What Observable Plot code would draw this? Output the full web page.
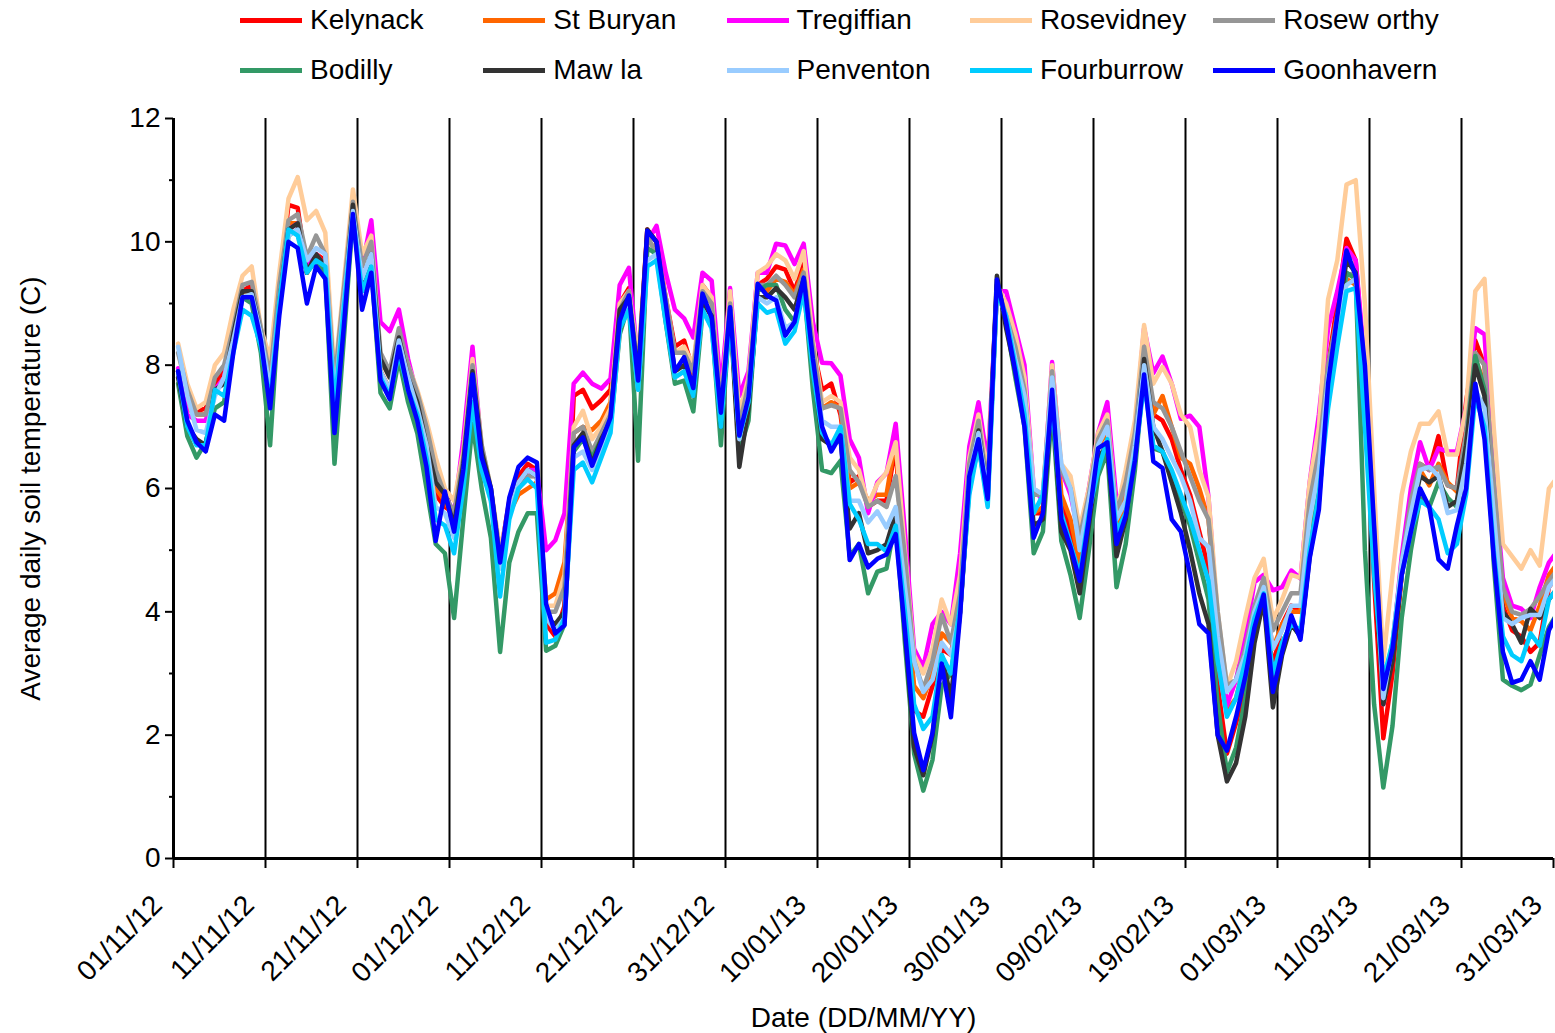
<!DOCTYPE html>
<html><head><meta charset="utf-8">
<script src="https://cdn.jsdelivr.net/npm/d3@7"></script>
<script src="https://cdn.jsdelivr.net/npm/@observablehq/plot@0.6"></script>
<style>
html,body{margin:0;padding:0;background:#fff;overflow:hidden;}
body{width:1555px;height:1033px;font-family:"Liberation Sans",Arial,sans-serif;}
#legend{position:relative;width:1555px;height:95px;}
.item{position:absolute;display:flex;align-items:center;font-size:28px;color:#000;height:30px;line-height:30px;white-space:nowrap;}
.sw{width:62px;height:5px;margin-right:8px;}
#chart svg{display:block;}
</style></head><body>
<div id="legend"></div>
<div id="chart"></div>
<script>
const seriesNames = ["Kelynack","St Buryan","Tregiffian","Rosevidney","Rosew orthy","Bodilly","Maw la","Penventon","Fourburrow","Goonhavern"];
const seriesColors = ["#FF0000","#FF6600","#FF00FF","#FFCC99","#969696","#339966","#333333","#99CCFF","#00CCFF","#0000FF"];
const xTickLabels = ["01/11/12","11/11/12","21/11/12","01/12/12","11/12/12","21/12/12","31/12/12","10/01/13","20/01/13","30/01/13","09/02/13","19/02/13","01/03/13","11/03/13","21/03/13","31/03/13"];
const yTicks = [0,2,4,6,8,10,12];
const yMinorTicks = [1,3,5,7,9,11];
const firstDay = "01/11/12";

const kelynack = [7.9,7.3,7.25,7.3,7.7,7.9,8.6,9.2,9.3,8.5,
7.5,9.3,10.6,10.55,9.5,9.8,9.7,7.2,9.0,10.6,
9.3,9.8,7.9,7.6,8.4,7.8,7.4,6.7,5.9,5.7,
5.6,6.5,8.0,6.6,5.9,4.9,5.8,6.2,6.4,6.3,
3.8,3.6,4.1,7.5,7.6,7.3,7.43,7.6,9.0,9.25,
7.9,10.2,10.0,9.1,8.3,8.4,7.9,9.3,9.1,7.3,
9.1,7.0,7.6,9.3,9.4,9.6,9.55,9.2,9.65,8.3,
7.6,7.7,7.2,6.1,6.2,5.7,5.8,5.8,6.7,4.3,
2.4,2.3,2.8,3.4,3.3,4.2,6.4,7.0,6.0,9.2,
8.9,8.2,7.4,5.6,5.6,7.9,5.8,5.3,4.7,5.6,
6.7,7.0,5.2,5.8,6.7,8.4,7.2,7.1,6.8,6.3,
5.9,5.3,4.7,2.8,1.7,2.2,2.8,3.7,4.2,3.1,
3.8,4.1,4.0,5.3,6.3,8.0,9.0,10.05,9.7,7.8,
4.5,1.95,3.0,4.6,5.7,6.4,6.3,6.85,6.05,6.0,
7.4,8.4,8.0,5.8,4.1,3.7,3.6,3.35,3.5,4.4,4.6];

const stBuryan = [7.9,7.3,7.2,7.2,7.6,7.8,8.5,9.2,9.2,8.5,
7.5,9.2,10.3,10.3,9.5,9.8,9.6,7.3,9.0,10.5,
9.3,9.8,7.9,7.6,8.4,7.8,7.4,6.8,6.0,5.8,
5.5,6.5,8.0,6.6,5.9,4.8,5.6,5.9,6.0,6.1,
4.2,4.3,4.8,6.9,7.0,6.95,7.1,7.4,8.9,9.1,
7.8,10.0,9.9,9.0,8.2,8.2,7.8,9.2,9.0,7.2,
9.1,7.1,7.7,9.3,9.2,9.4,9.35,9.15,9.55,8.3,
7.3,7.4,7.3,6.0,6.1,5.8,5.9,5.9,6.8,4.5,
2.8,2.6,3.0,3.65,3.5,4.0,6.2,6.9,6.0,9.2,
8.9,8.2,7.4,5.6,5.7,7.8,5.9,5.5,4.8,5.7,
6.7,6.9,5.3,5.9,6.8,8.3,7.2,7.5,7.0,6.5,
6.4,6.0,5.5,3.8,2.4,2.6,3.2,4.0,4.4,3.4,
3.8,4.0,4.0,5.4,6.3,7.9,8.8,9.4,9.3,7.6,
5.0,2.5,3.3,4.6,5.6,6.3,6.05,6.4,6.1,5.95,
6.8,8.1,7.7,5.9,4.3,3.9,3.85,3.7,4.1,4.6,4.8];

const tregiffian = [7.95,7.2,7.1,7.1,7.6,7.8,8.5,9.1,9.1,8.4,
7.4,9.1,10.2,10.3,9.6,9.8,9.6,7.2,8.9,10.5,
9.6,10.35,8.7,8.55,8.9,8.1,7.5,6.8,6.1,5.9,
5.6,6.8,8.3,6.6,5.9,4.9,5.7,6.0,6.3,6.3,
5.0,5.16,5.6,7.7,7.88,7.7,7.62,7.78,9.3,9.58,
8.0,10.0,10.26,9.5,8.9,8.76,8.45,9.5,9.37,7.6,
9.25,7.5,7.9,9.5,9.5,9.97,9.94,9.64,9.97,8.7,
8.04,8.03,7.83,6.8,6.5,5.6,6.1,6.25,7.05,5.3,
3.4,3.1,3.8,4.0,3.8,4.95,6.68,7.4,6.4,9.2,
9.2,8.6,8.0,6.0,5.8,8.05,6.3,5.9,5.2,6.0,
6.9,7.4,5.8,6.0,6.9,8.6,7.87,8.14,7.7,7.13,
7.18,7.0,5.86,3.8,2.48,2.9,3.6,4.48,4.6,4.35,
4.4,4.67,4.54,6.1,7.2,8.6,9.2,9.9,9.7,8.0,
5.2,2.5,3.4,4.9,6.0,6.75,6.3,6.65,6.6,6.6,
7.3,8.6,8.5,6.2,4.55,4.1,4.05,3.9,4.4,4.8,5.0];

const rosevidney = [8.35,7.7,7.3,7.4,8.0,8.2,8.9,9.45,9.6,8.6,
8.1,9.5,10.7,11.05,10.35,10.5,10.15,7.8,9.3,10.85,
9.8,10.1,8.1,7.8,8.5,8.0,7.6,7.1,6.5,6.0,
5.8,6.6,8.1,6.7,6.0,5.0,5.7,6.0,6.2,6.2,
4.1,4.1,4.6,7.0,7.26,6.8,7.0,7.3,9.0,9.2,
8.1,10.0,9.9,9.1,8.2,8.3,8.0,9.3,9.1,7.3,
9.2,7.2,7.8,9.5,9.6,9.8,9.7,9.4,9.85,8.4,
7.4,7.5,7.4,6.5,6.3,5.74,6.07,6.26,6.75,5.0,
3.3,3.0,3.4,4.2,3.8,4.6,6.5,7.2,6.2,9.3,
9.0,8.5,7.8,6.0,5.9,8.0,6.4,6.2,5.35,6.0,
6.9,7.2,5.6,6.3,7.1,8.65,7.7,7.97,7.7,7.2,
7.0,6.3,5.86,4.0,2.78,3.2,3.9,4.55,4.86,3.87,
4.2,4.6,4.55,6.1,7.0,9.07,9.7,10.93,11.0,9.0,
6.0,3.2,4.6,5.9,6.6,7.05,7.05,7.25,6.55,6.55,
7.3,9.2,9.4,7.0,5.1,4.9,4.7,5.0,4.75,6.0,6.2];

const roseworthy = [8.2,7.6,7.2,7.2,7.8,8.0,8.6,9.3,9.35,8.6,
7.8,9.3,10.35,10.45,9.75,10.1,9.8,7.7,9.2,10.65,
9.6,10.0,8.2,7.9,8.6,8.0,7.55,7.0,6.3,5.9,
5.6,6.5,8.0,6.7,6.0,4.9,5.6,6.0,6.2,6.2,
4.0,4.0,4.4,6.9,7.0,6.6,6.9,7.2,8.9,9.2,
7.9,10.1,9.8,9.1,8.2,8.2,7.9,9.2,9.0,7.3,
9.0,7.0,7.7,9.3,9.3,9.45,9.3,9.1,9.5,8.3,
7.3,7.35,7.3,6.3,6.1,5.7,5.8,5.7,6.2,4.9,
3.2,2.75,3.2,3.95,3.5,4.3,6.4,7.1,6.0,9.3,
8.8,8.3,7.6,5.9,5.9,7.9,6.3,6.0,5.2,5.9,
6.8,7.1,5.6,6.1,6.9,8.3,7.4,7.3,7.0,6.6,
6.2,5.8,5.5,4.0,2.8,2.9,3.4,4.1,4.55,3.7,
4.0,4.3,4.3,5.8,6.6,8.0,8.8,9.45,9.5,7.8,
5.3,2.8,3.5,4.8,5.8,6.4,6.3,6.35,6.05,6.0,
6.9,8.2,8.0,6.1,4.4,4.0,3.95,4.05,4.25,4.5,4.7];

const bodilly = [7.7,6.85,6.5,6.75,7.3,7.4,8.3,9.1,9.0,8.2,
6.7,9.0,10.1,10.2,9.5,9.7,9.5,6.4,8.4,10.4,
9.2,9.6,7.55,7.3,8.1,7.4,6.9,6.0,5.1,4.95,
3.9,5.5,7.05,6.0,5.2,3.35,4.8,5.3,5.6,5.6,
3.37,3.45,3.8,6.6,6.8,6.5,6.8,7.0,8.5,9.0,
6.45,9.9,9.8,8.7,7.7,7.75,7.25,8.85,8.7,6.7,
8.9,6.6,7.1,9.2,9.3,9.3,8.9,8.7,9.3,7.6,
6.3,6.25,6.45,4.9,5.1,4.3,4.65,4.7,5.5,3.5,
1.7,1.1,1.6,2.8,3.0,4.0,6.0,6.7,5.8,9.3,
8.7,7.8,7.0,4.95,5.3,7.3,5.15,4.6,3.9,5.0,
6.2,6.6,4.4,5.1,6.3,7.9,6.65,6.6,6.2,5.8,
5.4,4.8,4.2,2.5,1.4,1.8,2.6,3.6,4.2,2.9,
3.5,3.8,3.6,5.0,6.0,7.8,8.6,9.5,9.4,5.0,
2.5,1.15,2.15,3.9,5.0,5.85,5.7,6.1,5.85,5.7,
6.7,8.15,7.6,4.8,2.9,2.8,2.73,2.82,3.3,3.75,4.0];

const mawla = [7.8,7.0,6.8,6.7,7.6,7.7,8.5,9.2,9.2,8.5,
7.4,9.0,10.2,10.3,9.5,9.8,9.6,7.1,8.9,10.6,
9.3,9.8,8.1,7.8,8.45,7.8,7.4,6.7,6.1,5.9,
5.4,6.4,7.9,6.6,6.0,4.8,5.6,6.1,6.3,6.2,
3.9,3.8,4.0,6.7,6.9,6.4,6.8,7.1,8.9,9.1,
7.8,10.2,10.0,8.9,7.9,8.0,7.5,9.0,8.8,7.0,
8.9,6.35,7.3,9.1,9.1,9.25,9.1,8.9,9.4,8.0,
6.8,6.7,6.8,5.35,5.6,4.95,5.0,5.1,5.6,3.7,
1.8,1.35,2.0,3.3,2.6,4.0,6.1,6.94,5.9,9.45,
8.6,7.9,7.1,5.4,5.5,7.5,5.3,5.0,4.3,5.4,
6.5,6.7,4.9,5.5,6.6,8.1,7.0,6.6,6.1,5.6,
5.0,4.3,3.8,2.0,1.25,1.55,2.3,3.5,4.2,2.45,
3.3,3.8,3.6,4.9,5.8,7.7,8.7,9.7,9.5,7.4,
4.8,2.5,3.2,4.6,5.5,6.2,6.1,6.2,5.7,5.8,
6.7,8.0,7.5,5.3,4.0,3.8,3.5,4.05,3.9,4.2,4.4];

const penventon = [8.3,7.5,6.95,6.9,7.5,7.8,8.4,9.1,9.15,8.5,
7.6,9.0,10.1,10.2,9.7,9.9,9.8,7.4,9.0,10.5,
9.4,9.8,7.9,7.6,8.4,7.8,7.3,6.7,5.7,5.6,
5.2,6.2,7.8,6.4,5.8,4.7,5.6,6.1,6.3,6.2,
3.9,3.7,3.9,6.5,6.6,6.3,6.6,7.0,8.6,9.0,
7.6,9.7,9.8,8.8,7.8,7.9,7.6,8.9,8.6,7.1,
8.9,6.8,7.5,9.1,9.0,9.1,8.6,8.7,9.35,8.0,
7.1,7.0,7.0,5.8,5.8,5.45,5.63,5.37,5.7,4.4,
3.2,2.7,2.9,3.5,3.3,4.0,6.2,6.9,5.9,9.2,
8.8,8.1,7.5,6.0,5.9,7.8,6.4,6.0,5.0,5.8,
6.7,7.0,5.5,5.8,6.7,8.0,7.0,6.8,6.5,6.2,
5.8,5.2,5.05,3.6,2.7,2.9,3.3,4.0,4.4,3.4,
3.7,4.1,4.1,5.5,6.3,7.8,8.6,9.3,9.4,7.6,
5.0,2.6,3.5,4.8,5.6,6.3,6.35,6.2,5.6,5.65,
6.4,7.6,7.3,5.6,3.9,3.8,3.9,3.95,3.95,4.4,4.6];

const fourburrow = [7.9,7.0,6.7,6.7,7.6,7.5,8.2,8.9,8.8,8.3,
7.4,9.0,10.2,10.1,9.5,9.7,9.6,7.3,8.9,10.4,
9.2,9.6,7.8,7.5,8.2,7.6,7.2,6.5,5.5,5.4,
4.95,6.0,7.4,6.3,5.8,4.25,5.5,6.0,6.15,6.0,
3.5,3.55,3.9,6.3,6.42,6.1,6.5,6.9,8.6,8.9,
7.6,9.6,9.7,8.7,7.8,7.9,7.5,8.9,8.6,7.0,
8.8,6.85,7.4,9.0,8.85,8.9,8.35,8.55,9.2,7.9,
6.9,6.7,7.0,5.75,5.5,5.1,5.1,4.98,5.4,4.0,
2.5,2.1,2.3,3.3,3.0,4.1,5.9,6.7,5.7,9.2,
8.8,8.0,7.2,5.6,5.9,7.4,5.6,5.1,4.6,5.6,
6.3,6.8,5.3,5.6,6.5,7.7,6.7,6.6,6.3,5.9,
5.5,5.0,4.5,3.2,2.3,2.6,3.2,3.9,4.3,3.0,
3.5,3.8,3.7,5.0,5.9,7.3,8.3,9.2,9.25,7.0,
4.6,2.9,3.5,4.6,5.3,5.8,5.7,5.5,4.95,5.1,
5.9,7.5,7.0,5.0,3.6,3.3,3.2,3.65,3.45,4.2,4.4];

const goonhavern = [7.9,7.1,6.75,6.6,7.2,7.1,8.2,9.1,9.1,8.4,
7.3,8.8,10.0,9.9,9.0,9.6,9.4,6.9,8.6,10.45,
8.9,9.5,7.75,7.45,8.3,7.6,7.1,6.35,5.15,5.95,
5.3,6.3,7.85,6.5,6.0,4.8,5.85,6.35,6.5,6.42,
4.13,3.65,3.78,6.67,6.83,6.37,6.75,7.15,8.72,9.13,
7.75,10.18,10.0,9.0,7.9,8.13,7.63,9.16,8.77,7.23,
8.94,6.86,7.48,9.32,9.13,9.05,8.48,8.7,9.42,8.1,
7.0,6.6,6.86,4.84,5.1,4.72,4.86,4.93,5.26,3.7,
2.04,1.43,2.04,3.16,2.29,3.94,6.2,6.8,5.83,9.39,
8.7,7.9,7.0,5.2,5.6,7.6,5.5,5.05,4.5,5.5,
6.65,6.75,5.1,5.55,6.45,7.85,6.44,6.33,5.5,5.3,
4.6,3.8,3.65,2.0,1.75,2.3,2.95,3.75,4.28,2.7,
3.35,3.94,3.55,4.87,5.66,7.7,8.8,9.86,9.45,8.0,
5.4,2.75,3.4,4.6,5.3,6.0,5.7,4.85,4.7,5.4,
6.0,7.7,6.8,4.9,3.35,2.85,2.9,3.2,2.9,3.7,4.0];

const seriesValues = [kelynack,stBuryan,tregiffian,rosevidney,roseworthy,bodilly,mawla,penventon,fourburrow,goonhavern];

// ---- build ----
const parseDMY = s => { const [d,m,y] = s.split("/").map(Number); return new Date(Date.UTC(2000+y, m-1, d)); };
const tickDates = xTickLabels.map(parseDMY);
const t0 = parseDMY(firstDay).getTime();
const DAY = 864e5;
const rows = [];
seriesNames.forEach((name, i) => {
  seriesValues[i].forEach((v, k) => rows.push({series: name, date: new Date(t0 + k*DAY + DAY/2), value: v}));
});

// legend
const legend = document.getElementById("legend");
seriesNames.forEach((name, i) => {
  const el = document.createElement("div");
  el.className = "item";
  el.style.left = (240 + (i % 5) * 243.3) + "px";
  el.style.top = (5 + Math.floor(i / 5) * 50) + "px";
  el.innerHTML = `<span class="sw" style="background:${seriesColors[i]}"></span><span>${name}</span>`;
  legend.appendChild(el);
});

const fmt = d => { const i = tickDates.findIndex(t => +t === +d); return i >= 0 ? xTickLabels[i] : ""; };
const FONT = "'Liberation Sans', Arial, sans-serif";

const chart = Plot.plot({
  width: 1555,
  height: 938,
  marginLeft: 173,
  marginRight: 2,
  marginTop: 23,
  marginBottom: 175,
  style: {fontFamily: FONT, fontSize: "28px", color: "#000", background: "#fff", overflow: "visible"},
  x: {type: "utc", domain: [tickDates[0], tickDates[tickDates.length - 1]]},
  y: {domain: [0, 12]},
  color: {domain: seriesNames, range: seriesColors},
  marks: [
    Plot.ruleX(tickDates.slice(1, tickDates.length - 1), {stroke: "#000", strokeWidth: 2}),
    Plot.line(rows, {x: "date", y: "value", z: "series", stroke: "series", strokeWidth: 4.5, strokeLinejoin: "round", clip: true}),
    Plot.axisY({ticks: yMinorTicks, tickSize: 4, tickFormat: () => "", label: null, strokeWidth: 2}),
    Plot.axisY({ticks: yTicks, tickSize: 8, tickPadding: 5, fontSize: 28, strokeWidth: 2,
      label: "Average daily soil temperature (C)", labelAnchor: "center", labelArrow: "none", labelOffset: 153}),
    Plot.axisX({ticks: tickDates, tickSize: 10, tickFormat: () => "", strokeWidth: 2, label: null}),
    Plot.axisX({ticks: tickDates, tickFormat: fmt, tickRotate: -45, tickSize: 0, tickPadding: 42, dx: -16, fontSize: 28,
      label: "Date (DD/MM/YY)", labelAnchor: "center", labelArrow: "none", labelOffset: 168}),
    Plot.ruleY([0], {stroke: "#000", strokeWidth: 3}),
    Plot.ruleX([tickDates[0]], {stroke: "#000", strokeWidth: 3})
  ]
});
document.getElementById("chart").appendChild(chart);
</script></body></html>
